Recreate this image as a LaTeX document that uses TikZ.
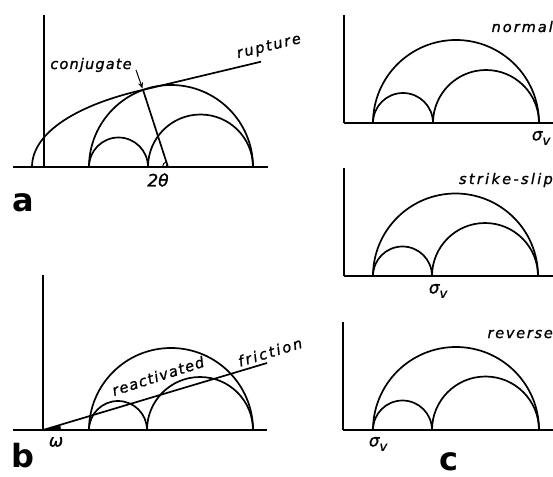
\documentclass[tikz,border=0pt]{standalone}
\usepackage{fontspec}
\newfontfamily\labfont[FakeBold=1.2]{DejaVu Sans}
\newfontfamily\subfont[FakeBold=1.2]{DejaVu Sans}
\newfontfamily\panfont{DejaVu Sans}
\usetikzlibrary{arrows.meta}
\tikzset{
  axis/.style={line width=2.1pt},
  mohr/.style={line width=1.7pt},
  lab/.style={inner sep=0pt, font=\labfont\itshape\fontsize{14.5}{16}\selectfont\addfontfeature{LetterSpace=#1}},
  lab/.default=10,
  sig/.style={inner sep=0pt, font=\subfont\itshape\fontsize{17}{18}\selectfont},
  pan/.style={inner sep=0pt, font=\panfont\bfseries\fontsize{32}{36}\selectfont},
}
\newcommand\sigv{σ\raisebox{-4.5pt}{\fontsize{13}{13}\selectfont v}}
\begin{document}
\begin{tikzpicture}[x=1pt,y=-1pt]
\useasboundingbox (0,0) rectangle (553,476);
\clip (0,0) rectangle (553,476);
% ---------------- panel a ----------------
\draw[axis] (44,15) -- (44,167);
\draw[axis] (13,167) -- (268,167);
\draw[mohr] (89,167) arc[start angle=180,end angle=360,radius=29.5];
\draw[mohr] (148,167) arc[start angle=180,end angle=360,radius=52.5];
\draw[mohr] (89,167) arc[start angle=180,end angle=360,radius=82];
\coordinate (T) at (143,89.9);
\coordinate (F) at (168,167);
\coordinate (E) at (261,61.7);
\coordinate (S) at (32,167);
\draw[mohr] (S) .. controls (32,132) and (78.6,104.4) .. (T) -- (E);
\draw[mohr] (T) -- (F);
\draw[line width=1pt] ([shift={(-108:2.5)}]F) arc[start angle=-108,end angle=-180,radius=2.5];
\draw[line width=1pt] ([shift={(-108:5.5)}]F) arc[start angle=-108,end angle=-180,radius=5.5];
\node[lab=8] (conj) at (91,65) {conjugate};
\coordinate (ca) at (136,70);
\draw[line width=1pt,-{Stealth[length=6pt,width=5pt]},shorten >=1.5pt] (ca) -- (T);
\node[lab=13,rotate=13.5] (rup) at (269,47) {rupture};
\node[sig] (tt) at (158,180) {2θ};
\node[pan] (pa) at (23,203) {a};
% ---------------- panel b ----------------
\draw[axis] (43,275) -- (43,430);
\draw[axis] (13,430) -- (267,430);
\draw[mohr] (89,430) arc[start angle=180,end angle=360,radius=29];
\draw[mohr] (147,430) arc[start angle=180,end angle=360,radius=53];
\draw[mohr] (89,430) arc[start angle=180,end angle=360,radius=82];
\coordinate (O) at (43,430);
\coordinate (R) at (267,363);
\draw[mohr] (O) -- (R);
\fill (O) -- ++(18,0) arc[start angle=0,end angle=-16.65,radius=18] -- cycle;
\node[lab=9,rotate=18] (rea) at (158,376) {reactivated};
\node[lab=15,rotate=17] (fri) at (270,352) {friction};
\node[sig] (om) at (56,442) {ω};
\node[pan] (pb) at (23,456) {b};
% ---------------- panel c : normal ----------------
\draw[axis] (344,15) -- (344,123);
\draw[axis] (344,123) -- (553,123);
\draw[mohr] (373,123) arc[start angle=180,end angle=360,radius=30];
\draw[mohr] (433,123) arc[start angle=180,end angle=360,radius=53];
\draw[mohr] (373,123) arc[start angle=180,end angle=360,radius=83];
\node[lab=14,anchor=base east] (nor) at (553,32) {normal};
\node[sig] (s1) at (541,138) {\sigv};
% ---------------- panel c : strike-slip ----------------
\draw[axis] (344,168) -- (344,276);
\draw[axis] (344,276) -- (553,276);
\draw[mohr] (373,276) arc[start angle=180,end angle=360,radius=29.5];
\draw[mohr] (432,276) arc[start angle=180,end angle=360,radius=53];
\draw[mohr] (373,276) arc[start angle=180,end angle=360,radius=82.5];
\node[lab=16,anchor=base east] (str) at (553,184) {strike-slip};
\node[sig] (s2) at (438,291) {\sigv};
% ---------------- panel c : reverse ----------------
\draw[axis] (343,322) -- (343,430);
\draw[axis] (343,430) -- (553,430);
\draw[mohr] (373,430) arc[start angle=180,end angle=360,radius=29.5];
\draw[mohr] (432,430) arc[start angle=180,end angle=360,radius=53.5];
\draw[mohr] (373,430) arc[start angle=180,end angle=360,radius=83];
\node[lab=12,anchor=base east] (rev) at (553,338) {reverse};
\node[sig] (s3) at (378,444) {\sigv};
\node[pan] (pc) at (449,462) {c};
\end{tikzpicture}
\end{document}
